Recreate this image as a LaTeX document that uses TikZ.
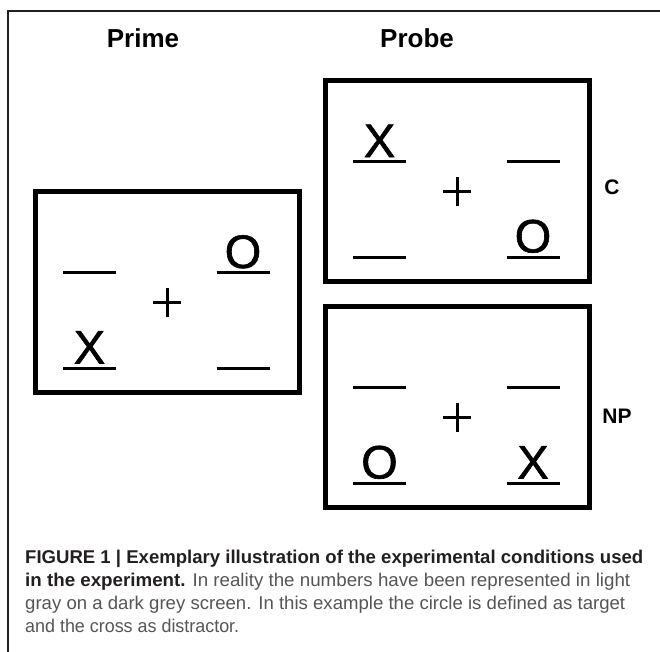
\documentclass[tikz,border=0pt]{standalone}
\usepackage{fontspec}
\usepackage{graphicx}
\setmainfont{Liberation Sans}
\newfontfamily\stimfont[FakeBold=1.2]{Liberation Sans}

\definecolor{framegray}{HTML}{231F20}
\definecolor{captgray}{HTML}{555555}

\tikzset{
  screen/.style={draw=black, line width=5pt},
  slot/.style={draw=black, line width=3pt},
  letter/.style={inner sep=0pt, anchor=base, font=\stimfont\fontsize{47}{47}\selectfont},
  headline/.style={inner sep=0pt, font=\fontsize{26}{26}\selectfont\bfseries},
  condlabel/.style={inner sep=0pt, font=\fontsize{21}{21}\selectfont\bfseries},
  captline/.style={inner sep=0pt, anchor=base west, text=captgray,
    font=\fontsize{18.5}{18.5}\selectfont},
}

\begin{document}
\begin{tikzpicture}[x=1pt,y=-1pt]
  \useasboundingbox (0,0) rectangle (660,651);

  % frame of the figure
  \draw[line width=2pt, framegray] (8,670) -- (8,11) -- (670,11);

  % headings
  \node[headline] (hdprime) at (143,38) {Prime};
  \node[headline] (hdprobe) at (417,38) {Probe};

  % screens: outer top-left corner / name
  \foreach \bx/\by/\nm in {33/189/prime, 323/78/cong, 323/304/npos} {
    \draw[screen] (\bx+2.5,\by+2.5) rectangle (\bx+266,\by+203.5);
    \coordinate (\nm-tl) at (\bx+56.5,\by+83.5);
    \coordinate (\nm-tr) at (\bx+210,\by+83.5);
    \coordinate (\nm-bl) at (\bx+56.5,\by+179);
    \coordinate (\nm-br) at (\bx+210,\by+179);
    \coordinate (\nm-fix) at (\bx+134,\by+113.5);
    % the four slots
    \foreach \s in {tl,tr,bl,br}
      \draw[slot] ([xshift=-26.5pt]\nm-\s) -- ([xshift=26.5pt]\nm-\s);
    % fixation cross
    \draw[slot] ([xshift=-14pt]\nm-fix) -- ([xshift=14pt]\nm-fix);
    \draw[slot] ([yshift=-14.5pt]\nm-fix) -- ([yshift=14.5pt]\nm-fix);
  }

  % items on the slots
  \node[letter] (prime-o) at ([yshift=4.5pt]prime-tr) {O};
  \node[letter] (prime-x) at ([yshift=4.5pt]prime-bl) {X};
  \node[letter] (cong-x)  at ([yshift=4.5pt]cong-tl) {X};
  \node[letter] (cong-o)  at ([yshift=4.5pt]cong-br) {O};
  \node[letter] (npos-o)  at ([yshift=4.5pt]npos-bl) {O};
  \node[letter] (npos-x)  at ([yshift=4.5pt]npos-br) {X};

  % conditions
  \node[condlabel] (lbc)  at (612,187) {C};
  \node[condlabel] (lbnp) at (617,416) {NP};

  % caption
  \node[captline] (cap1) at (25,563) {\resizebox{618pt}{\height}{%
    \textcolor{framegray}{\bfseries FIGURE 1 | Exemplary illustration of the experimental conditions used}}};
  \node[captline] (cap2) at (25,586) {\resizebox{605pt}{\height}{%
    \textcolor{framegray}{\bfseries in the experiment.} In reality the numbers have been represented in light}};
  \node[captline] (cap3) at (25,609) {\resizebox{600pt}{\height}{%
    gray on a dark grey screen. In this example the circle is defined as target}};
  \node[captline] (cap4) at (25,632) {\resizebox{214pt}{\height}{%
    and the cross as distractor.}};
\end{tikzpicture}
\end{document}
